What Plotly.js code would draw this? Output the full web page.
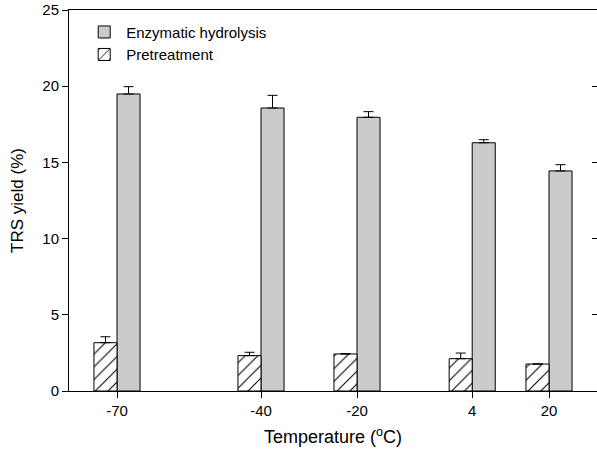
<!DOCTYPE html>
<html>
<head>
<meta charset="utf-8">
<script src="https://cdn.plot.ly/plotly-3.0.1.min.js"></script>
<style>html,body{margin:0;padding:0;overflow:hidden;background:#fff;}</style>
</head>
<body>
<div id="chart" style="width:597px;height:458px;"></div>
<script>
const temperatures = [-70, -40, -20, 4, 20];
const enzymaticYield = [19.49, 18.57, 17.96, 16.29, 14.44];
const enzymaticErr = [0.48, 0.83, 0.37, 0.20, 0.41];
const pretreatYield = [3.17, 2.32, 2.43, 2.12, 1.77];
const pretreatErr = [0.39, 0.22, 0.03, 0.37, 0];
const yTicks = [0, 5, 10, 15, 20, 25];
const xTicks = [-70, -40, -20, 4, 20];

const barW = 4.8;
const font = {family: 'Liberation Sans, Arial, sans-serif', color: '#000'};

const traces = [
  {
    type: 'bar', name: 'Enzymatic hydrolysis',
    x: temperatures, y: enzymaticYield,
    offset: 0, width: barW,
    marker: {color: '#cbcbcb', line: {color: '#000', width: 1}},
    error_y: {type: 'data', array: enzymaticErr, symmetric: false, arrayminus: enzymaticErr.map(()=>0), color: '#000', thickness: 1, width: 5}
  },
  {
    type: 'bar', name: 'Pretreatment',
    x: temperatures, y: pretreatYield,
    offset: -barW, width: barW,
    marker: {color: '#ffffff', line: {color: '#000', width: 1},
      pattern: {shape: '/', fgcolor: '#000', bgcolor: '#ffffff', size: 9, solidity: 0.12}},
    error_y: {type: 'data', array: pretreatErr, symmetric: false, arrayminus: pretreatErr.map(()=>0), color: '#000', thickness: 1, width: 5}
  },
  {
    type: 'scatter', x: [null], y: [null], yaxis: 'y2', showlegend: false, hoverinfo: 'skip'
  }
];

const layout = {
  width: 597, height: 458,
  margin: {l: 69, r: 0, t: 10, b: 67},
  paper_bgcolor: '#fff', plot_bgcolor: '#fff',
  barmode: 'overlay',
  showlegend: true,
  legend: {x: 0.025, y: 0.985, xanchor: 'left', yanchor: 'top', bgcolor: 'rgba(0,0,0,0)',
    font: Object.assign({size: 15}, font), tracegroupgap: 0, itemwidth: 34},
  xaxis: {
    range: [-80, 30], tickvals: xTicks, ticktext: xTicks.map(String),
    showgrid: false, zeroline: false, showline: true, linecolor: '#000', linewidth: 1,
    mirror: true, ticks: 'outside', ticklen: 6, tickcolor: '#000',
    tickfont: Object.assign({size: 15}, font),
    title: {text: 'Temperature (<sup>o</sup>C)', font: Object.assign({size: 18}, font), standoff: 12}
  },
  yaxis: {
    range: [0, 25], tickvals: yTicks,
    showgrid: false, zeroline: false, showline: true, linecolor: '#000', linewidth: 1,
    ticks: 'outside', ticklen: 6, tickcolor: '#000',
    tickfont: Object.assign({size: 15}, font),
    title: {text: 'TRS yield (%)', font: Object.assign({size: 17}, font), standoff: 14}
  },
  yaxis2: {
    range: [0, 25], tickvals: yTicks, overlaying: 'y', side: 'right',
    showgrid: false, zeroline: false, showline: false, showticklabels: false,
    ticks: 'inside', ticklen: 5, tickcolor: '#000'
  }
};

Plotly.newPlot('chart', traces, layout, {displayModeBar: false, staticPlot: true});
</script>
</body>
</html>
